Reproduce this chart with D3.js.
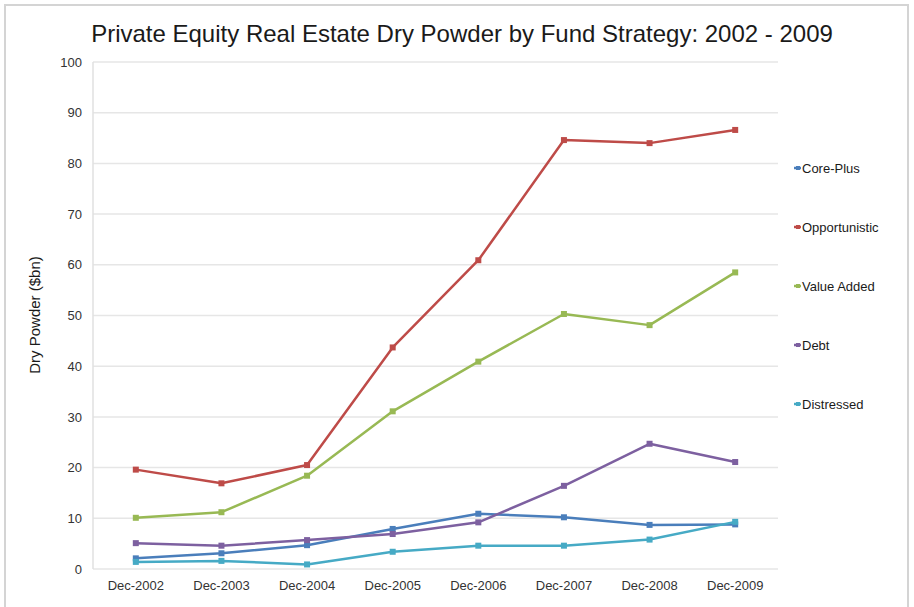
<!DOCTYPE html>
<html>
<head>
<meta charset="utf-8">
<script src="https://cdn.jsdelivr.net/npm/d3@7"></script>
<style>
  body { margin: 0; background: #fff; }
  svg { display: block; font-family: "Liberation Sans", Arial, sans-serif; }
</style>
</head>
<body>
<script>
// Chart data
const years = ["Dec-2002", "Dec-2003", "Dec-2004", "Dec-2005", "Dec-2006", "Dec-2007", "Dec-2008", "Dec-2009"];
const seriesNames = ["Core-Plus", "Opportunistic", "Value Added", "Debt", "Distressed"];
const corePlus = [2.1, 3.1, 4.7, 7.9, 10.9, 10.2, 8.7, 8.8];
const opportunistic = [19.6, 16.9, 20.5, 43.7, 60.9, 84.6, 84.0, 86.6];
const valueAdded = [10.1, 11.2, 18.4, 31.1, 40.9, 50.3, 48.1, 58.5];
const debt = [5.1, 4.6, 5.7, 6.9, 9.2, 16.4, 24.7, 21.1];
const distressed = [1.4, 1.6, 0.9, 3.4, 4.6, 4.6, 5.8, 9.3];
const yTicks = [0, 10, 20, 30, 40, 50, 60, 70, 80, 90, 100];

const seriesValues = [corePlus, opportunistic, valueAdded, debt, distressed];
const colors = ["#4a7ebb", "#be4b48", "#98b954", "#7d60a0", "#46aac5"];

const width = 914, height = 607;
const margin = { top: 62, right: 136, bottom: 38, left: 93 };
const innerW = width - margin.left - margin.right;
const innerH = height - margin.top - margin.bottom;

const svg = d3.select("body").append("svg")
    .attr("width", width)
    .attr("height", height);

// outer frame
svg.append("rect")
    .attr("x", 5).attr("y", 5)
    .attr("width", 903).attr("height", 610)
    .attr("fill", "#fff")
    .attr("stroke", "#d4d4d4")
    .attr("stroke-width", 2);

svg.append("text")
    .attr("x", 462).attr("y", 42)
    .attr("text-anchor", "middle")
    .style("font-size", "24px")
    .attr("fill", "#1a1a1a")
    .text("Private Equity Real Estate Dry Powder by Fund Strategy: 2002 - 2009");

const g = svg.append("g")
    .attr("transform", `translate(${margin.left},${margin.top})`);

const x = d3.scaleBand().domain(years).range([0, innerW]).padding(0);
const y = d3.scaleLinear().domain([0, 100]).range([innerH, 0]);

// grid
g.append("g")
    .selectAll("line")
    .data(yTicks)
    .join("line")
    .attr("x1", 0).attr("x2", innerW)
    .attr("y1", d => y(d)).attr("y2", d => y(d))
    .attr("stroke", "#e6e6e6")
    .attr("stroke-width", 1.5);

g.append("line")
    .attr("x1", 0).attr("x2", 0)
    .attr("y1", 0).attr("y2", innerH)
    .attr("stroke", "#e0e0e0")
    .attr("stroke-width", 1.5);

// axes
const yAxis = g.append("g")
    .call(d3.axisLeft(y).tickValues(yTicks).tickSize(0).tickPadding(11));
yAxis.select(".domain").remove();
yAxis.selectAll("text").style("font-size", "13px").attr("fill", "#333");

const xAxis = g.append("g")
    .attr("transform", `translate(0,${innerH})`)
    .call(d3.axisBottom(x).tickSize(0).tickPadding(12));
xAxis.select(".domain").remove();
xAxis.selectAll("text").style("font-size", "13px").attr("fill", "#333");

svg.append("text")
    .attr("transform", `translate(40,315) rotate(-90)`)
    .attr("text-anchor", "middle")
    .style("font-size", "15px")
    .attr("fill", "#1a1a1a")
    .text("Dry Powder ($bn)");

const line = d3.line()
    .x((d, i) => x(years[i]) + x.bandwidth() / 2)
    .y(d => y(d));

seriesValues.forEach((vals, k) => {
    g.append("path")
        .datum(vals)
        .attr("fill", "none")
        .attr("stroke", colors[k])
        .attr("stroke-width", 2.5)
        .attr("stroke-linejoin", "round")
        .attr("d", line);

    g.append("g")
        .selectAll("rect")
        .data(vals)
        .join("rect")
        .attr("x", (d, i) => x(years[i]) + x.bandwidth() / 2 - 3)
        .attr("y", d => y(d) - 3)
        .attr("width", 6).attr("height", 6)
        .attr("fill", colors[k]);
});

// legend
const legend = svg.append("g").attr("transform", "translate(798,168)");
seriesNames.forEach((name, i) => {
    const row = legend.append("g").attr("transform", `translate(0,${i * 59})`);
    row.append("line")
        .attr("x1", -4).attr("x2", 3)
        .attr("stroke", colors[i])
        .attr("stroke-width", 2.5);
    row.append("rect")
        .attr("x", -2).attr("y", -2)
        .attr("width", 4).attr("height", 4)
        .attr("fill", colors[i]);
    row.append("text")
        .attr("x", 4).attr("y", 5)
        .style("font-size", "13px")
        .attr("fill", "#1a1a1a")
        .text(name);
});
</script>
</body>
</html>
